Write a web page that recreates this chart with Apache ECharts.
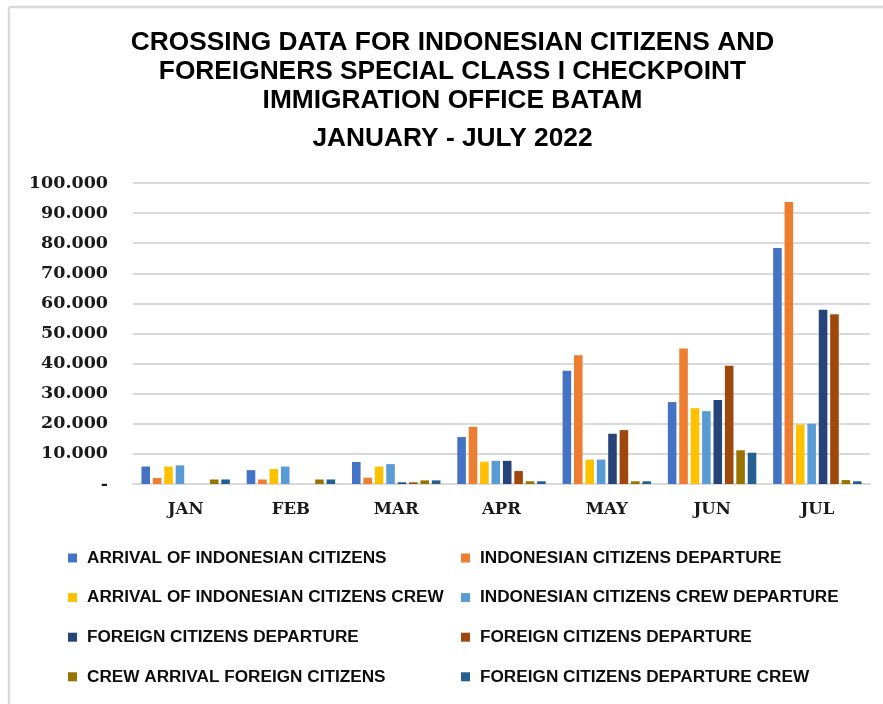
<!DOCTYPE html>
<html>
<head>
<meta charset="utf-8">
<script src="https://cdn.jsdelivr.net/npm/echarts@6/dist/echarts.min.js"></script>
<style>
html,body{margin:0;padding:0;background:#fff;}
#chart{width:883px;height:704px;}
</style>
</head>
<body>
<div id="chart"></div>
<script>
const months = ['JAN','FEB','MAR','APR','MAY','JUN','JUL'];
const seriesNames = [
  'ARRIVAL OF INDONESIAN CITIZENS',
  'INDONESIAN CITIZENS DEPARTURE',
  'ARRIVAL OF INDONESIAN CITIZENS CREW',
  'INDONESIAN CITIZENS CREW DEPARTURE',
  'FOREIGN CITIZENS DEPARTURE',
  'FOREIGN CITIZENS DEPARTURE ',
  'CREW ARRIVAL FOREIGN CITIZENS',
  'FOREIGN CITIZENS DEPARTURE CREW'
];
const arrivalIndonesian      = [5800, 4600, 7300, 15600, 37600, 27200, 78400];
const departureIndonesian    = [2000, 1500, 2100, 19000, 42800, 45000, 93700];
const arrivalIndonesianCrew  = [5800, 5000, 5800, 7400, 8100, 25200, 19700];
const departureIndonesianCrew= [6200, 5800, 6600, 7700, 8100, 24200, 20000];
const foreignDeparture1      = [0, 0, 550, 7700, 16700, 27900, 57900];
const foreignDeparture2      = [0, 0, 550, 4300, 17900, 39300, 56400];
const crewArrivalForeign     = [1500, 1500, 1200, 900, 900, 11200, 1300];
const foreignDepartureCrew   = [1500, 1500, 1200, 900, 900, 10400, 900];
const yTicks = {min: 0, max: 100000, interval: 10000};

const allData = [arrivalIndonesian, departureIndonesian, arrivalIndonesianCrew, departureIndonesianCrew,
  foreignDeparture1, foreignDeparture2, crewArrivalForeign, foreignDepartureCrew];
const colors = ['#4472C4','#ED7D31','#FFC000','#5B9BD5','#264478','#9E480E','#997300','#255E91'];

const chart = echarts.init(document.getElementById('chart'), null, {renderer:'canvas'});
const legendText = {fontFamily:'Liberation Sans', fontWeight:'bold', fontSize:17.2, color:'#0d0d0d', lineHeight:17, padding:[0,0,0,5]};
const titleStyle = {fontFamily:'Liberation Sans', fontWeight:'bold', fontSize:26.3, lineHeight:29, color:'#000'};
const option = {
  backgroundColor:'#fff',
  animation:false,
  color: colors,
  title:[
    {text:'CROSSING DATA FOR INDONESIAN CITIZENS AND\nFOREIGNERS SPECIAL CLASS I CHECKPOINT\nIMMIGRATION OFFICE BATAM',
     left:452.5, textAlign:'center', top:28.5, padding:0, textStyle:titleStyle},
    {text:'JANUARY - JULY 2022', left:452.5, textAlign:'center', top:124, padding:0, textStyle:titleStyle}
  ],
  graphic:[
    {type:'line', shape:{x1:9,y1:7,x2:883,y2:7}, style:{stroke:'#d9d9d9', lineWidth:2.5}},
    {type:'line', shape:{x1:9,y1:7,x2:9,y2:704}, style:{stroke:'#d9d9d9', lineWidth:2.5}}
  ],
  legend:[
    {orient:'vertical', left:68, top:549.5, padding:0, itemWidth:9, itemHeight:9, itemGap:22.6, icon:'rect',
     data:[seriesNames[0],seriesNames[2],seriesNames[4],seriesNames[6]], textStyle:legendText,
     formatter:n=>n.trim(), selectedMode:false},
    {orient:'vertical', left:461, top:549.5, padding:0, itemWidth:9, itemHeight:9, itemGap:22.6, icon:'rect',
     data:[seriesNames[1],seriesNames[3],seriesNames[5],seriesNames[7]], textStyle:legendText,
     formatter:n=>n.trim(), selectedMode:false}
  ],
  grid:{left:133, right:13, top:183, bottom:220, containLabel:false},
  xAxis:{type:'category', data:months,
    axisLine:{lineStyle:{color:'#d9d9d9', width:2}}, axisTick:{show:false},
    axisLabel:{margin:17, fontFamily:'DejaVu Serif', fontWeight:'bold', fontSize:16.5, color:'#1a1a1a'}},
  yAxis:{type:'value', min:yTicks.min, max:yTicks.max, interval:yTicks.interval,
    axisLine:{show:false}, axisTick:{show:false},
    splitLine:{lineStyle:{color:'#d9d9d9', width:2}},
    axisLabel:{margin:25, fontFamily:'DejaVu Serif', fontWeight:'bold', fontSize:17.5, color:'#1a1a1a',
      formatter:v=> v===0 ? '-' : String(v).replace(/\B(?=(\d{3})+(?!\d))/g,'.')}},
  series: seriesNames.map((name,i)=>({
    name:name, type:'bar', data:allData[i], barGap:'33%', barCategoryGap:'16%'
  }))
};
chart.setOption(option);
</script>
</body>
</html>
